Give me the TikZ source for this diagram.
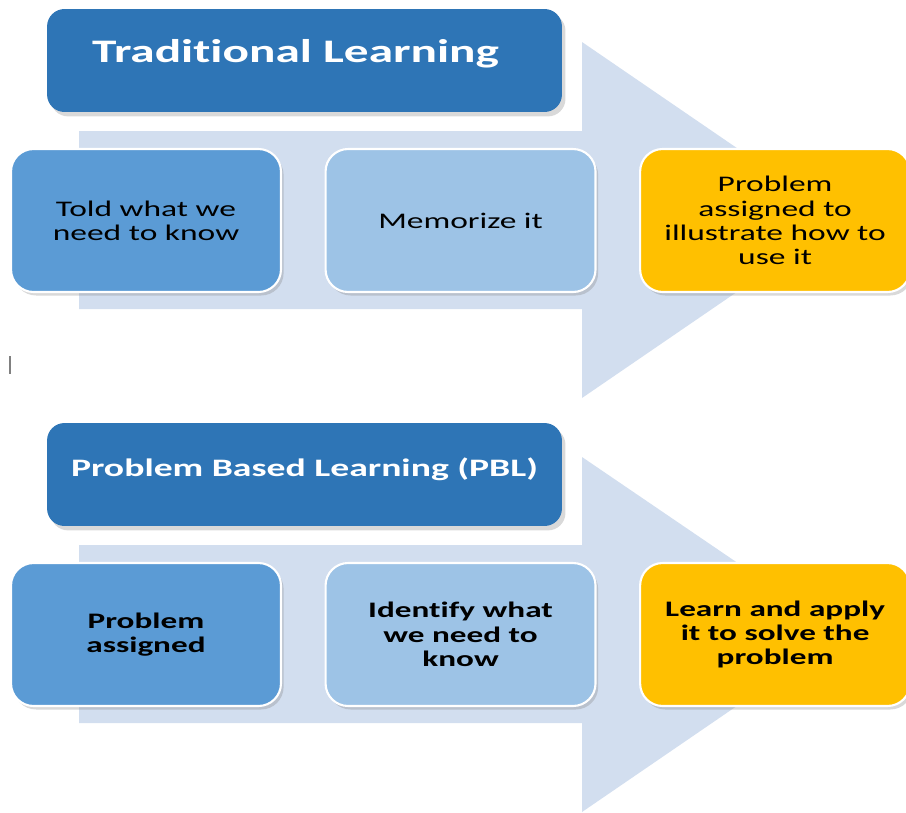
\documentclass[tikz,border=0pt]{standalone}
\usepackage{fontspec}
\setmainfont{Carlito}[FakeStretch=1.5, Ligatures=NoCommon]
\usetikzlibrary{positioning, shadows}

\definecolor{headblue}{HTML}{2E75B6}
\definecolor{midblue}{HTML}{5B9BD5}
\definecolor{paleblue}{HTML}{9DC3E6}
\definecolor{gold}{HTML}{FFC000}
\definecolor{arrowfill}{HTML}{D2DEEF}

\begin{document}
\begin{tikzpicture}[x=0.02cm, y=-0.02cm,
  every node/.style={font=\fontsize{12.7}{13.8}\selectfont},
  header/.style={rectangle, rounded corners=0.35cm, fill=headblue, text=white,
    minimum width=10.3cm, minimum height=2.06cm,
    drop shadow={shadow xshift=2pt, shadow yshift=-2.5pt, opacity=0.3}},
  stepbox/.style={rectangle, rounded corners=0.45cm, draw=white, line width=1.2pt,
    minimum width=5.4cm, minimum height=2.86cm, align=center,
    drop shadow={shadow xshift=1.5pt, shadow yshift=-2pt, opacity=0.3}},
  boldtext/.style={font=\bfseries\fontsize{12.6}{13.8}\selectfont}]

  \useasboundingbox (0,0) rectangle (906,812);
  \clip (0,0) rectangle (906,812);

  % Background arrows
  \fill[arrowfill] (79,131) -- (582,131) -- (582,42) -- (842,220) -- (582,398)
    -- (582,309) -- (79,309) -- cycle;
  \fill[arrowfill] (79,545) -- (582,545) -- (582,457) -- (842,634) -- (582,812)
    -- (582,723) -- (79,723) -- cycle;

  % Traditional learning
  \node (trad) [header, font=\bfseries\fontsize{18.7}{22}\selectfont,
    text height=13pt, text depth=10.5pt] at (304.5,60.5)
    {Traditional Learning\hspace*{0.36cm}};
  \node (told) [stepbox, fill=midblue] at (146,220.5) {Told what we\\need to know};
  \node (memo) [stepbox, fill=paleblue, right=0.85cm of told] {Memorize it};
  \node (use) [stepbox, fill=gold, right=0.85cm of memo]
    {Problem\\assigned to\\illustrate how to\\use it};

  % Problem based learning
  \node (pbl) [header, font=\bfseries\fontsize{14.3}{18}\selectfont,
    text height=10pt, text depth=7.5pt] at (304.5,474.5) {Problem Based Learning (PBL)};
  \node (assigned) [stepbox, fill=midblue, boldtext] at (146,634.5) {Problem\\assigned};
  \node (identify) [stepbox, fill=paleblue, boldtext, right=0.85cm of assigned]
    {Identify what\\we need to\\know};
  \node (apply) [stepbox, fill=gold, boldtext, right=0.85cm of identify]
    {Learn and apply\\it to solve the\\problem};

  % Cursor mark
  \draw[gray, line width=1.2pt] (10,356) -- (10,374);
\end{tikzpicture}
\end{document}
